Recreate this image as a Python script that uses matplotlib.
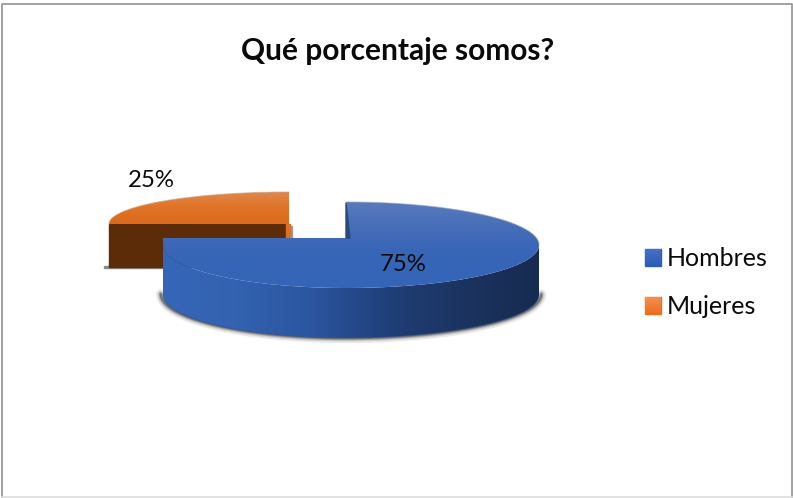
import numpy as np
import matplotlib.pyplot as plt
from matplotlib.colors import LinearSegmentedColormap
from matplotlib.patches import Patch, Polygon, Rectangle

title = "Qué porcentaje somos?"
categories = ["Hombres", "Mujeres"]
shares = [75, 25]
legend_colors = [["#4472C4", "#2A5CB8"], ["#F4914F", "#ED6C1F"]]

plt.rcParams['font.family'] = ['Lato', 'DejaVu Sans']


def rim(cx, cy, rx_right, rx_left, ry, start, sweep):
    # points along an elliptical rim, going clockwise from start (degrees)
    t = np.radians(np.linspace(start, start - sweep, 240))
    rx = np.where(np.cos(t) >= 0, rx_right, rx_left)
    return np.column_stack([cx + rx * np.cos(t), cy - ry * np.sin(t)])


def gradient(ax, path_points, colors, extent, horizontal=False):
    # fills a polygon with a linear gradient, drawn as a clipped image
    cmap = LinearSegmentedColormap.from_list("g", colors)
    ramp = np.linspace(0, 1, 256)
    img = ramp[None, :] if horizontal else ramp[:, None]
    im = ax.imshow(img, cmap=cmap, extent=extent, origin="upper",
                   aspect="auto", interpolation="bilinear", zorder=ax.zcount)
    clip = Polygon(path_points, closed=True, transform=ax.transData)
    im.set_clip_path(clip)
    ax.zcount += 1


fig = plt.figure(figsize=(7.93, 4.98), dpi=100)
ax = fig.add_axes([0, 0, 1, 1])
ax.zcount = 2
ax.set_xlim(0, 793)
ax.set_ylim(498, 0)
ax.axis("off")

# chart frame
ax.plot([2, 2, 792, 792], [497, 4, 4, 497], color="#9a9a9a", lw=1.3)
ax.plot([2, 792], [497.3, 497.3], color="#dddddd", lw=1.2)

total = sum(shares)
sweep_blue = shares[0] / total * 360
sweep_orange = shares[1] / total * 360

# detached slice: cut face first, then its top
ox, oy = 289, 224
orange_top = rim(ox, oy, 180, 180, 32, 90 + sweep_orange, sweep_orange)
ax.add_patch(Rectangle((104, 266), 60, 1.6, color="#8a8a8a", zorder=1))
ax.add_patch(Rectangle((289, 226), 3, 12, color="#9a9a9a", zorder=1))
ax.add_patch(Rectangle((109, oy), 178, 43, color="#5C2C08", zorder=2))
ax.add_patch(Rectangle((286, oy), 3.5, 15, color="#D9702A", zorder=2))
gradient(ax, np.vstack([orange_top, [[ox, oy]]]),
         ["#E08A50", "#E07428", "#DC6A1A"], [105, 293, oy, 190])
ax.plot(orange_top[:, 0], orange_top[:, 1], color="#c9a080", lw=0.8, alpha=0.6, zorder=ax.zcount)

# main slice
cx, cy = 346, 245
rr, rl, ry = 193, 183, 43
depth = 50
apex = (350, 238)
arc = rim(cx, cy, rr, rl, ry, 90, sweep_blue)
lower = arc[np.sin(np.radians(np.linspace(90, 90 - sweep_blue, 240))) <= 0]

# soft shadow under the front wall
shadow = (lower - [cx, cy]) * [1.012, 1.03] + [cx, cy + depth - 1]
for w, a in [(7, 0.10), (4.5, 0.16), (2.8, 0.25), (1.5, 0.4)]:
    ax.plot(shadow[:, 0], shadow[:, 1], color="#303030",
            lw=w, alpha=a, solid_capstyle="round", zorder=2)

side = np.vstack([lower, lower[::-1] + [0, depth]])
gradient(ax, side, ["#3666B8", "#3362B0", "#2B559F", "#1F3F78", "#1B335F", "#172B50"],
         [160, 542, 345, 240], horizontal=True)
ax.plot(lower[:, 0], lower[:, 1] + depth, color="#34507f", lw=0.7, alpha=0.6, zorder=ax.zcount)

top = np.vstack([arc, [[163, apex[1]], apex]])
gradient(ax, top, ["#5A7BBC", "#4A70B9", "#3A67B6", "#3565B7", "#3565B7"],
         [160, 542, 290, 200])
back = arc[(arc[:, 1] <= cy) & (arc[:, 0] >= cx)]
ax.plot(back[:, 0], back[:, 1], color="#8f9fc0", lw=0.8, alpha=0.6, zorder=ax.zcount)

ax.add_patch(Polygon([(cx, 203), apex, (cx, apex[1])], color="#27497F", zorder=ax.zcount))

# labels
ax.text(398, 51, title, fontsize=21.5, fontweight="bold", ha="center",
        va="center", color="#0a0a0a", zorder=20)
ax.text(403, 264, f"{shares[0]}%", fontsize=17.3, ha="center", va="center",
        color="#0a0a0a", zorder=20)
ax.text(151, 180, f"{shares[1]}%", fontsize=17.3, ha="center", va="center",
        color="#0a0a0a", zorder=20)

handles = [Patch(color=c[1], label=n) for c, n in zip(legend_colors, categories)]
leg = ax.legend(handles=handles, loc="center left", bbox_to_anchor=(0.813, 0.432),
                frameon=False, fontsize=18, handlelength=0.64, handleheight=0.64,
                handletextpad=0.24, labelspacing=1.0, borderpad=0, borderaxespad=0,
                labelcolor="#0a0a0a")

# legend keys get the same vertical shading as the slices
fig.canvas.draw()
for patch, colors in zip(leg.get_patches(), legend_colors):
    box = patch.get_window_extent().transformed(ax.transData.inverted())
    corners = [(box.x0, box.y0), (box.x1, box.y0), (box.x1, box.y1), (box.x0, box.y1)]
    ax.zcount = 10
    gradient(ax, corners, colors, [box.x0, box.x1, box.y0, box.y1])

ax.set_xlim(0, 793)
ax.set_ylim(498, 0)
fig.savefig("out.png", dpi=100)
